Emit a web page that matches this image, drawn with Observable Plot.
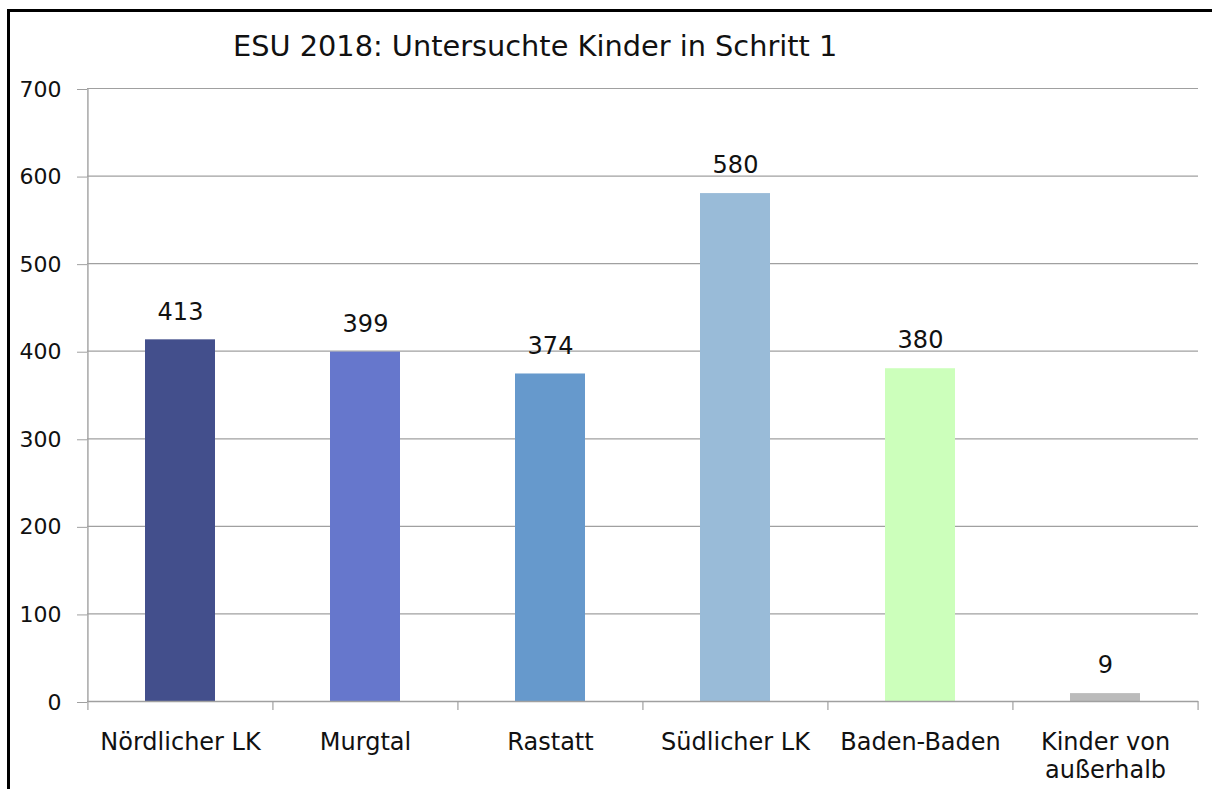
<!DOCTYPE html>
<html>
<head>
<meta charset="utf-8">
<script src="https://cdn.jsdelivr.net/npm/d3@7"></script>
<script src="https://cdn.jsdelivr.net/npm/@observablehq/plot@0.6"></script>
<style>
  html, body { margin: 0; padding: 0; background: #fff; overflow: hidden; }
  #wrap { position: relative; width: 1212px; height: 789px; overflow: hidden; font-family: "DejaVu Sans", sans-serif; }
  #border { position: absolute; left: 7px; top: 9px; width: 1220px; height: 800px; border-left: 3px solid #000; border-top: 3px solid #000; pointer-events: none; }
  #title { position: absolute; left: 233px; top: 32px; font-size: 28.8px; line-height: 1; color: #111; white-space: nowrap; }
  svg { display: block; }
</style>
</head>
<body>
<div id="wrap">
  <div id="chart"></div>
  <div id="title">ESU 2018: Untersuchte Kinder in Schritt 1</div>
  <div id="border"></div>
</div>
<script>
const categories = ["Nördlicher LK", "Murgtal", "Rastatt", "Südlicher LK", "Baden-Baden", "Kinder von außerhalb"];
const categoryLabels = ["Nördlicher LK", "Murgtal", "Rastatt", "Südlicher LK", "Baden-Baden", "Kinder von\naußerhalb"];
const values = [413, 399, 374, 580, 380, 9];
const colors = ["#434f8c", "#6677cc", "#6699cc", "#99bbd8", "#ccffbb", "#bbbbbb"];
const yTicks = [0, 100, 200, 300, 400, 500, 600, 700];

const data = categories.map((c, i) => ({category: c, value: values[i], color: colors[i]}));
const labelOf = new Map(categories.map((c, i) => [c, categoryLabels[i]]));

const W = 1212, H = 789, mL = 87, mR = 14, mT = 88, mB = 88;
const step = (W - mL - mR) / categories.length;
const gridColor = "#a0a0a0";

const chart = Plot.plot({
  width: W,
  height: H,
  marginLeft: mL,
  marginRight: mR,
  marginTop: mT,
  marginBottom: mB,
  style: {fontFamily: "DejaVu Sans, sans-serif", color: "#111", background: "transparent"},
  x: {domain: categories, paddingInner: 0.62, paddingOuter: 0.31, label: null},
  y: {domain: [0, 700], label: null},
  marks: [
    Plot.gridY(yTicks, {stroke: gridColor, strokeOpacity: 1, strokeWidth: 1.2}),
    Plot.barY(data, {x: "category", y: "value", fill: "color"}),
    Plot.ruleY([0], {stroke: gridColor, strokeWidth: 1.4}),
    Plot.ruleX([categories[0]], {dx: -step / 2, stroke: gridColor, strokeWidth: 1.4}),
    Plot.ruleX(categories, {dx: -step / 2, insetTop: H - mT - mB, insetBottom: -9, stroke: gridColor, strokeWidth: 1.2}),
    Plot.ruleX([categories[categories.length - 1]], {dx: step / 2, insetTop: H - mT - mB, insetBottom: -9, stroke: gridColor, strokeWidth: 1.2}),
    Plot.axisY({ticks: yTicks, tickSize: 10, tickPadding: 16, fontSize: 22, dy: 1, stroke: gridColor, label: null}),
    Plot.axisX({tickSize: 0, tickPadding: 29, fontSize: 24, lineHeight: 1.15, tickFormat: d => labelOf.get(d), label: null}),
    Plot.text(data, {x: "category", y: "value", text: d => String(d.value), dy: -28, fontSize: 24, fill: "#111"})
  ]
});
document.getElementById("chart").appendChild(chart);
</script>
</body>
</html>
